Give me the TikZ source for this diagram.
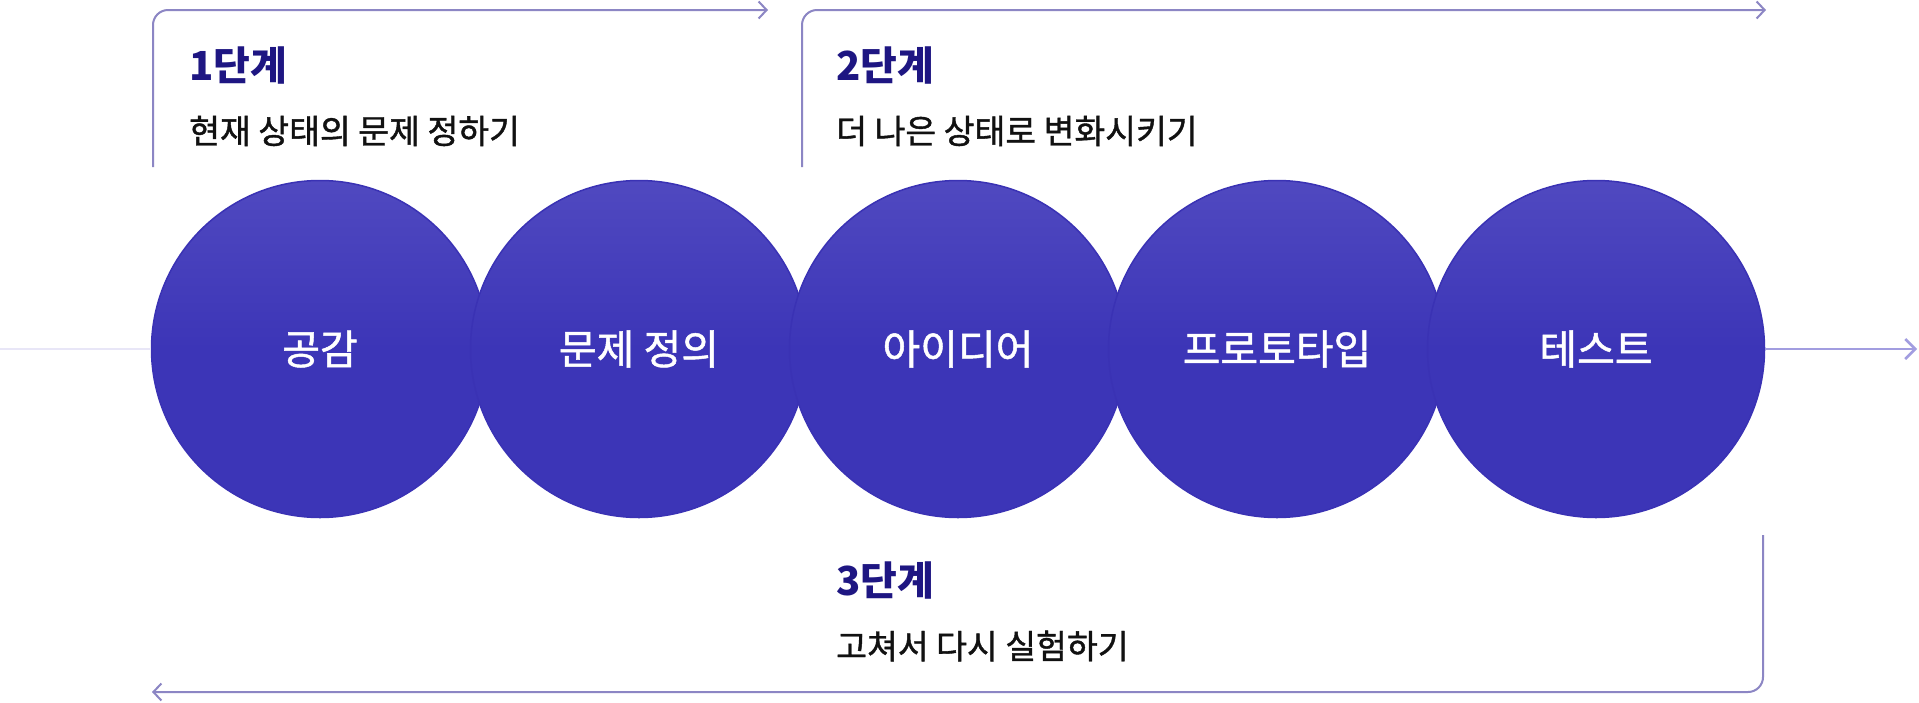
\documentclass[tikz,border=0pt]{standalone}
\usepackage{fontspec}
\setmainfont{Noto Sans CJK KR}
\newfontfamily\medfont{Noto Sans CJK KR}[FakeBold=1.2]
\usetikzlibrary{arrows.meta}
\definecolor{circtop}{RGB}{80,73,192}
\definecolor{circbot}{RGB}{60,53,183}
\definecolor{circedge}{RGB}{58,50,180}
\definecolor{bracketcol}{RGB}{140,134,196}
\definecolor{rightcol}{RGB}{162,157,224}
\definecolor{leftcol}{RGB}{232,230,247}
\definecolor{titlecol}{RGB}{30,22,130}
\definecolor{subcol}{RGB}{17,17,17}
\tikzset{
  stage/.style={circle, minimum size=337pt, inner sep=0pt, draw=circedge, line width=1.5pt,
    top color=circtop, bottom color=circbot, middle color=circbot,
    text=white, font=\medfont\fontsize{41}{44}\selectfont},
  bracket/.style={draw=bracketcol, line width=2pt, rounded corners=15pt,
    -{Straight Barb[length=8pt,width=17pt,line width=2pt]}},
  rightline/.style={draw=rightcol, line width=2.5pt,
    -{Straight Barb[length=10pt,width=20pt,line width=2.5pt]}},
  leftline/.style={draw=leftcol, line width=2.5pt},
  steptitle/.style={anchor=west, inner sep=0pt, text=titlecol, font=\bfseries\fontsize{40}{44}\selectfont},
  stepsub/.style={anchor=west, inner sep=0pt, text=subcol, font=\medfont\fontsize{33.5}{38}\selectfont},
}
\begin{document}
\begin{tikzpicture}[x=1pt,y=-1pt]
\useasboundingbox[fill=white] (0,0) rectangle (1919,702);
% coordinates for free ends
\coordinate (lstart) at (0,349);
\coordinate (rend) at (1917,349);
\coordinate (b1s) at (153,167);
\coordinate (b1e) at (768,10);
\coordinate (b2s) at (802,167);
\coordinate (b2e) at (1766,10);
\coordinate (b3s) at (1763,535);
\coordinate (b3e) at (152,692);
% circles
\node[stage] (c1) at (320,349) {공감};
\node[stage] (c2) at (639,349) {문제 정의};
\node[stage] (c3) at (958,349) {아이디어};
\node[stage] (c4) at (1277,349) {프로토타입};
\node[stage] (c5) at (1596,349) {테스트};
% lines
\draw[leftline] (lstart) -- (c1.west);
\draw[rightline] (c5.east) -- (rend);
\draw[bracket] (b1s) |- (b1e);
\draw[bracket] (b2s) |- (b2e);
\draw[bracket] (b3s) |- (b3e);
% texts
\node[steptitle] (t1) at (189,65) {1단계};
\node[stepsub] (s1) at (189,131) {현재 상태의 문제 정하기};
\node[steptitle] (t2) at (836,65) {2단계};
\node[stepsub] (s2) at (836,131) {더 나은 상태로 변화시키기};
\node[steptitle] (t3) at (836,580) {3단계};
\node[stepsub] (s3) at (836,646) {고쳐서 다시 실험하기};
\end{tikzpicture}
\end{document}
